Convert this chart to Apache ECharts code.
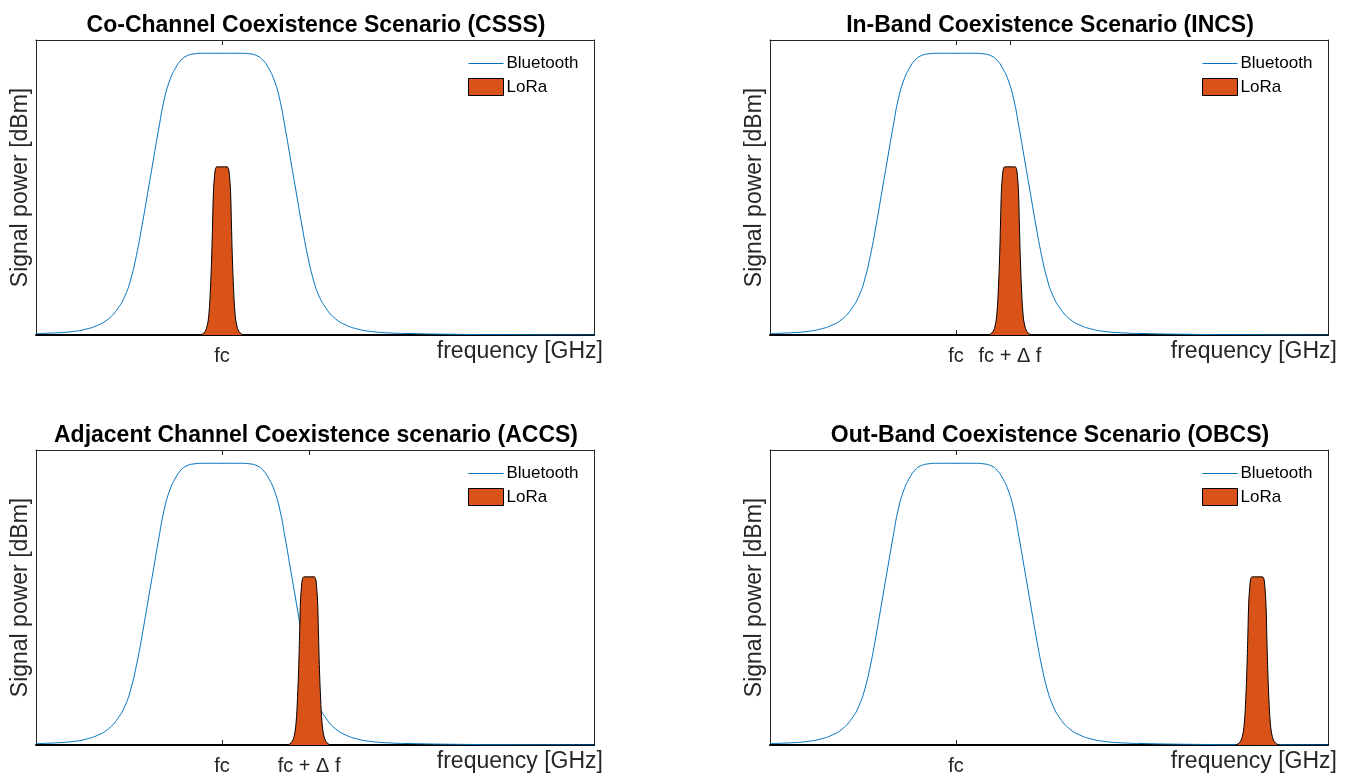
<!DOCTYPE html>
<html>
<head>
<meta charset="utf-8">
<script src="https://cdn.jsdelivr.net/npm/echarts@6/dist/echarts.min.js"></script>
<style>
html,body{margin:0;padding:0;background:#fff;}
#chart{width:1354px;height:776px;}
</style>
</head>
<body>
<div id="chart"></div>
<script>
// ---- data ----
const panelTitles = [
  'Co-Channel Coexistence Scenario (CSSS)',
  'In-Band Coexistence Scenario (INCS)',
  'Adjacent Channel Coexistence scenario (ACCS)',
  'Out-Band Coexistence Scenario (OBCS)'
];
const seriesNames = ['Bluetooth', 'LoRa'];
const fc = 1.0;
const tickLabels = ['fc', 'fc + \u0394 f'];
// tick positions for each panel (frequency units, fc = 1)
const panelTicks = [[1.0], [1.0, 1.29], [1.0, 1.468], [1.0]];
// LoRa centre frequency per panel
const loraCenter = [1.0, 1.29, 1.468, 2.62];

// Bluetooth spectrum (frequency, power as fraction of the axis height)
const btX = [0, 0.1, 0.2, 0.27, 0.335, 0.39, 0.44, 0.48, 0.51, 0.54, 0.57, 0.60, 0.63, 0.66, 0.69, 0.72, 0.75, 0.78, 0.81, 0.85, 0.9, 1.0,
             1.1, 1.15, 1.19, 1.22, 1.25, 1.28, 1.31, 1.34, 1.37, 1.40, 1.43, 1.46, 1.49, 1.52, 1.56, 1.61, 1.665, 1.73, 1.8, 1.9, 2.0, 2.3, 2.6, 3.0];
const btY = [0.005, 0.007, 0.012, 0.02, 0.034, 0.055, 0.09, 0.135, 0.19, 0.27, 0.37, 0.48, 0.59, 0.70, 0.80, 0.865, 0.905, 0.932, 0.946, 0.953, 0.955, 0.955,
             0.955, 0.953, 0.946, 0.932, 0.905, 0.865, 0.80, 0.70, 0.59, 0.48, 0.37, 0.27, 0.19, 0.135, 0.09, 0.055, 0.034, 0.02, 0.012, 0.007, 0.005, 0.002, 0.001, 0.0];

// LoRa spectrum shape: offset from its centre, power as fraction of the axis height
const loraOffset = [-0.118, -0.097, -0.081, -0.070, -0.062, -0.056, -0.051, -0.046, -0.040, -0.035, -0.027, 0,
                    0.027, 0.035, 0.040, 0.046, 0.051, 0.056, 0.062, 0.070, 0.081, 0.097, 0.118];
const loraLevel = [0, 0.007, 0.028, 0.074, 0.16, 0.257, 0.37, 0.485, 0.54, 0.564, 0.57, 0.57,
                   0.57, 0.564, 0.54, 0.485, 0.37, 0.257, 0.16, 0.074, 0.028, 0.007, 0];

// ---- layout ----
const FONT = '"Liberation Sans", Arial, Helvetica, sans-serif';
const AX = '#262626';
const gridPos = [
  {left: 36, top: 40},
  {left: 770, top: 40},
  {left: 36, top: 450},
  {left: 770, top: 450}
];
const GW = 558, GH = 295;

const option = {
  animation: false,
  backgroundColor: '#ffffff',
  textStyle: {fontFamily: FONT},
  grid: [], xAxis: [], yAxis: [], series: [], title: [], legend: []
};

panelTitles.forEach((title, i) => {
  const g = gridPos[i];
  const ticks = panelTicks[i];
  option.grid.push({left: g.left, top: g.top, width: GW, height: GH});
  const fmt = (v) => (Math.abs(v - fc) < 1e-6 ? tickLabels[0] : tickLabels[1]);
  option.xAxis.push({
    type: 'value', gridIndex: i, min: 0, max: 3, position: 'bottom',
    axisLine: {show: true, onZero: false, lineStyle: {color: '#000', width: 2}},
    axisTick: {show: true, inside: true, length: 5, customValues: ticks, lineStyle: {color: AX, width: 1}},
    axisLabel: {show: true, customValues: ticks, formatter: fmt, fontSize: 20, color: AX, margin: 11, fontFamily: FONT},
    splitLine: {show: false},
    name: 'frequency [GHz]', nameLocation: 'end', nameGap: 9,
    nameTextStyle: {align: 'right', verticalAlign: 'top', fontSize: 23, color: AX, padding: [5, 0, 0, 0], fontFamily: FONT}
  });
  option.xAxis.push({
    type: 'value', gridIndex: i, min: 0, max: 3, position: 'top',
    axisLine: {show: true, onZero: false, lineStyle: {color: AX, width: 1}},
    axisTick: {show: true, inside: true, length: 5, customValues: ticks, lineStyle: {color: AX, width: 1}},
    axisLabel: {show: false}, splitLine: {show: false}
  });
  option.yAxis.push({
    type: 'value', gridIndex: i, min: 0, max: 1, position: 'left',
    axisLine: {show: true, onZero: false, lineStyle: {color: AX, width: 1}},
    axisTick: {show: false}, axisLabel: {show: false}, splitLine: {show: false},
    name: 'Signal power [dBm]', nameLocation: 'middle', nameGap: 4,
    nameTextStyle: {fontSize: 23, color: AX, fontFamily: FONT}
  });
  option.yAxis.push({
    type: 'value', gridIndex: i, min: 0, max: 1, position: 'right',
    axisLine: {show: true, onZero: false, lineStyle: {color: AX, width: 1}},
    axisTick: {show: false}, axisLabel: {show: false}, splitLine: {show: false}
  });
  option.series.push({
    name: seriesNames[0], type: 'line', xAxisIndex: 2 * i, yAxisIndex: 2 * i,
    data: btX.map((x, k) => [x, btY[k]]),
    symbol: 'none', smooth: 0.5,
    lineStyle: {color: '#0072BD', width: 1}, itemStyle: {color: '#0072BD'}, z: 2
  });
  option.series.push({
    name: seriesNames[1], type: 'line', xAxisIndex: 2 * i, yAxisIndex: 2 * i,
    data: loraOffset.map((d, k) => [loraCenter[i] + d, loraLevel[k]]),
    symbol: 'none', smooth: 0.4,
    lineStyle: {color: '#000', width: 1},
    areaStyle: {color: '#D95319', opacity: 1},
    itemStyle: {color: '#D95319'}, z: 3
  });
  option.title.push({
    text: title, left: g.left + GW / 2 - 4, top: g.top - 31, textAlign: 'center',
    textStyle: {fontSize: 23, fontWeight: 'bold', color: '#000', fontFamily: FONT}
  });
  option.legend.push({
    orient: 'vertical', left: g.left + 432, top: g.top + 15,
    itemWidth: 35, itemHeight: 17, itemGap: 6, selectedMode: false,
    padding: 0,
    textStyle: {fontSize: 17, color: '#000', fontFamily: FONT, padding: [0, 0, 0, -2]},
    data: [
      {name: seriesNames[0], icon: 'path://M0,0h36v1h-36z', itemStyle: {color: '#0072BD'}},
      {name: seriesNames[1], icon: 'rect', itemStyle: {color: '#D95319', borderColor: '#000', borderWidth: 1}}
    ]
  });
});

const chart = echarts.init(document.getElementById('chart'), null, {renderer: 'canvas'});
chart.setOption(option);
</script>
</body>
</html>
